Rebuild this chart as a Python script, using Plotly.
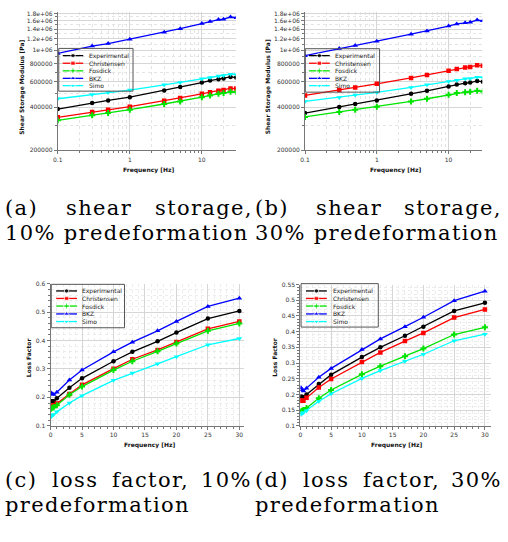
import math
import plotly.graph_objects as go

W, H = 508, 542

# ---------------- data ----------------
freq = [0.1, 0.3, 0.5, 1, 3, 5, 10, 13, 17, 20, 25, 30]
series_names = ["Experimental", "Christensen", "Fosdick", "BKZ", "Simo"]

# (a) shear storage modulus, 10% predeformation [Pa]
exp_a = [388e3, 428e3, 446e3, 470e3, 523e3, 552e3, 594e3, 613e3, 627e3, 633e3, 650e3, 644e3]
chr_a = [340e3, 370e3, 384e3, 403e3, 444e3, 463e3, 496e3, 509e3, 520e3, 526e3, 540e3, 540e3]
fos_a = [324e3, 351e3, 364e3, 384e3, 421e3, 439e3, 470e3, 483e3, 496e3, 502e3, 512e3, 510e3]
bkz_a = [948e3, 1066e3, 1110e3, 1190e3, 1330e3, 1410e3, 1530e3, 1580e3, 1630e3, 1640e3, 1700e3, 1680e3]
simo_a = [458e3, 490e3, 507e3, 526e3, 573e3, 594e3, 630e3, 644e3, 661e3, 665e3, 679e3, 675e3]

# (b) shear storage modulus, 30% predeformation [Pa]
exp_b = [364e3, 401e3, 421e3, 446e3, 496e3, 520e3, 558e3, 576e3, 588e3, 594e3, 610e3, 601e3]
chr_b = [483e3, 526e3, 549e3, 582e3, 640e3, 671e3, 719e3, 739e3, 755e3, 763e3, 783e3, 779e3]
fos_b = [342e3, 370e3, 384e3, 403e3, 439e3, 458e3, 488e3, 502e3, 509e3, 512e3, 520e3, 515e3]
bkz_b = [914e3, 1027e3, 1077e3, 1154e3, 1290e3, 1360e3, 1470e3, 1520e3, 1550e3, 1560e3, 1620e3, 1600e3]
simo_b = [439e3, 468e3, 486e3, 507e3, 549e3, 573e3, 604e3, 617e3, 630e3, 633e3, 647e3, 644e3]

# (c) loss factor, 10% predeformation
exp_c = [0.186, 0.186, 0.186, 0.197, 0.234, 0.267, 0.327, 0.360, 0.397, 0.428, 0.477, 0.504]
chr_c = [0.168, 0.170, 0.172, 0.178, 0.212, 0.244, 0.301, 0.334, 0.367, 0.395, 0.441, 0.467]
fos_c = [0.160, 0.163, 0.165, 0.172, 0.209, 0.238, 0.296, 0.327, 0.362, 0.389, 0.434, 0.460]
bkz_c = [0.215, 0.212, 0.210, 0.218, 0.261, 0.296, 0.360, 0.394, 0.434, 0.467, 0.520, 0.549]
simo_c = [0.133, 0.137, 0.140, 0.149, 0.180, 0.206, 0.260, 0.286, 0.318, 0.343, 0.385, 0.407]

# (d) loss factor, 30% predeformation
exp_d = [0.193, 0.192, 0.191, 0.200, 0.233, 0.263, 0.319, 0.350, 0.387, 0.416, 0.466, 0.492]
chr_d = [0.181, 0.180, 0.180, 0.189, 0.222, 0.249, 0.303, 0.334, 0.370, 0.396, 0.445, 0.471]
fos_d = [0.146, 0.148, 0.150, 0.157, 0.188, 0.214, 0.264, 0.290, 0.322, 0.346, 0.391, 0.414]
bkz_d = [0.221, 0.215, 0.211, 0.220, 0.255, 0.283, 0.343, 0.377, 0.416, 0.446, 0.499, 0.529]
simo_d = [0.137, 0.140, 0.142, 0.148, 0.178, 0.202, 0.251, 0.276, 0.306, 0.328, 0.371, 0.392]

storage_ticks = [2e5, 4e5, 6e5, 8e5, 1e6, 1.2e6, 1.4e6, 1.6e6, 1.8e6]
storage_ticktext = ["200000", "400000", "600000", "800000", "1e+06", "1.2e+06", "1.4e+06", "1.6e+06", "1.8e+06"]
storage_minor = [3e5, 5e5, 7e5, 9e5, 1.1e6, 1.3e6, 1.5e6, 1.7e6]
freq_log_ticks = [0.1, 1, 10]
freq_log_ticktext = ["0.1", "1", "10"]
freq_log_minor = [0.2, 0.3, 0.4, 0.5, 0.6, 0.7, 0.8, 0.9, 2, 3, 4, 5, 6, 7, 8, 9, 20, 30]

captions = [
    ["(a) shear storage,", "10% predeformation"],
    ["(b) shear storage,", "30% predeformation"],
    ["(c) loss factor, 10%", "predeformation"],
    ["(d) loss factor, 30%", "predeformation"],
]

# ---------------- style ----------------
colors = ["#000000", "#ff0000", "#00e400", "#0000ff", "#00ffff"]
symbols = ["circle", "square", "cross", "triangle-up", "triangle-down"]
msizes = [4.5, 4.5, 5, 5, 5]
SANS = "DejaVu Sans"
SERIF = "DejaVu Serif"
CAP_SIZE = 21
CAP_LS = 1.35  # px letter spacing to mimic the wide caption type
LEFT_FIX = -4  # compensate the annotation's inner padding on left-anchored words


def X(px):
    return px / W


def Y(py):
    return 1 - py / H


panels = [
    dict(data=[exp_a, chr_a, fos_a, bkz_a, simo_a], kind="log",
         xd=(53.3, 233), yd=(8, 148.3), xr=[-1, 1.47], yr=[math.log10(2e5), 6.266],
         ytitle="Shear Storage Modulus [Pa]", ytx=17, yty=84, xtx=145, xty=168,
         box=(54.3, 45, 129.3, 88.3), l0=58.3, l1=79, tx=82.7, rows=[52.3, 60, 67.7, 75.3, 82.7]),
    dict(data=[exp_b, chr_b, fos_b, bkz_b, simo_b], kind="log",
         xd=(303, 482), yd=(8, 148.3), xr=[-1, 1.469], yr=[math.log10(2e5), 6.266],
         ytitle="Shear Storage Modulus [Pa]", ytx=266, yty=84, xtx=394, xty=168,
         box=(303.3, 45.3, 378.3, 89.3), l0=307, l1=328, tx=331.7, rows=[52.3, 60, 67.7, 75.3, 82.7]),
    dict(data=[exp_c, chr_c, fos_c, bkz_c, simo_c], kind="lin",
         xd=(46, 241.7), yd=(283.3, 427.3), xr=[0, 30.79], yr=[0.1, 0.6], ydt=0.1, ymin=0.02,
         ytitle="Loss Factor", ytx=24, yty=358, xtx=146, xty=447,
         box=(46.7, 284, 120.7, 328), l0=51.7, l1=72.7, tx=76, rows=[290.7, 298.3, 306, 314, 321.7]),
    dict(data=[exp_d, chr_d, fos_d, bkz_d, simo_d], kind="lin",
         xd=(298.3, 490.7), yd=(284.3, 427.3), xr=[0, 30.97], yr=[0.1, 0.55], ydt=0.05, ymin=0.01,
         ytitle="Loss Factor", ytx=272, yty=358, xtx=395, xty=447,
         box=(299, 283.3, 377, 327.3), l0=304, l1=325, tx=329, rows=[290.7, 298.3, 306, 314, 321.7]),
]

# caption placement: (left, right, y line1, y line2)
caption_boxes = [
    (3, 251, 207, 232.5),
    (255, 503, 207, 232.5),
    (3, 250, 482, 508),
    (255, 503, 482, 508),
]

# approximate advance widths of DejaVu Serif (em) for justification
_w = {" ": 0.318, "(": 0.390, ")": 0.390, "a": 0.596, "b": 0.640, "c": 0.560, "d": 0.640,
      "e": 0.592, "f": 0.370, "g": 0.640, "h": 0.644, "i": 0.320, "l": 0.320, "m": 0.948,
      "n": 0.644, "o": 0.602, "p": 0.640, "r": 0.478, "s": 0.513, "t": 0.402, ",": 0.318,
      "%": 0.950, "0": 0.636, "1": 0.636, "3": 0.636}


def text_w(s, size, ls):
    return sum(_w.get(ch, 0.6) for ch in s) * size + ls * (len(s) - 1)


def spaced(s):
    return f'<span style="letter-spacing:{CAP_LS}px">{s}</span>'


fig = go.Figure()
layout = dict(
    width=W, height=H, margin=dict(l=0, r=0, t=0, b=0),
    paper_bgcolor="white", plot_bgcolor="rgba(0,0,0,0)", showlegend=False,
)
annotations = []
shapes = []

axis_common = dict(
    showline=True, linecolor="#777777", linewidth=1, ticks="outside", ticklen=3,
    tickcolor="#777777", tickfont=dict(family=SANS, size=6, color="#333333"),
    showgrid=True, gridcolor="#d6d6d6", gridwidth=1, zeroline=False, fixedrange=True,
)

for i, p in enumerate(panels, start=1):
    xa = "xaxis" if i == 1 else f"xaxis{i}"
    ya = "yaxis" if i == 1 else f"yaxis{i}"
    xref = "x" if i == 1 else f"x{i}"
    yref = "y" if i == 1 else f"y{i}"
    xdom = [X(p["xd"][0]), X(p["xd"][1])]
    ydom = [Y(p["yd"][1]), Y(p["yd"][0])]
    if p["kind"] == "log":
        layout[xa] = dict(axis_common, type="log", domain=xdom, anchor=yref, range=p["xr"],
                          tickvals=freq_log_ticks, ticktext=freq_log_ticktext,
                          minor=dict(tickvals=freq_log_minor, ticks="outside", ticklen=2,
                                     tickcolor="#777777", showgrid=True, gridcolor="#e4e4e4",
                                     griddash="dot"))
        layout[ya] = dict(axis_common, type="log", domain=ydom, anchor=xref, range=p["yr"],
                          tickvals=storage_ticks, ticktext=storage_ticktext,
                          minor=dict(tickvals=storage_minor, ticks="outside", ticklen=2,
                                     tickcolor="#777777", showgrid=True, gridcolor="#e4e4e4",
                                     griddash="dot"))
    else:
        layout[xa] = dict(axis_common, domain=xdom, anchor=yref, range=p["xr"], dtick=5, tick0=0,
                          minor=dict(dtick=1, ticks="outside", ticklen=2, tickcolor="#777777",
                                     showgrid=True, gridcolor="#ececec", griddash="dot"))
        layout[ya] = dict(axis_common, domain=ydom, anchor=xref, range=p["yr"], dtick=p["ydt"],
                          tick0=0.1,
                          minor=dict(dtick=p["ymin"], ticks="outside", ticklen=2,
                                     tickcolor="#777777", showgrid=True, gridcolor="#ececec",
                                     griddash="dot"))

    for k, vals in enumerate(p["data"]):
        fig.add_trace(go.Scatter(
            x=freq, y=vals, mode="lines+markers", name=series_names[k],
            xaxis=xref, yaxis=yref,
            line=dict(color=colors[k], width=1.3),
            marker=dict(symbol=symbols[k], size=msizes[k], color=colors[k]),
            hoverinfo="x+y+name",
        ))

    # axis titles
    annotations.append(dict(text="<b>" + p["ytitle"] + "</b>", x=X(p["ytx"]), y=Y(p["yty"]),
                            xref="paper", yref="paper", showarrow=False, textangle=-90,
                            font=dict(family=SANS, size=6, color="#111111"),
                            xanchor="center", yanchor="middle"))
    annotations.append(dict(text="<b>Frequency [Hz]</b>", x=X(p["xtx"]), y=Y(p["xty"]),
                            xref="paper", yref="paper", showarrow=False,
                            font=dict(family=SANS, size=6, color="#111111"),
                            xanchor="center", yanchor="middle"))

    # legend box (drawn by hand so its rows can be as tight as the reference)
    bx0, by0, bx1, by1 = p["box"]
    shapes.append(dict(type="rect", xref="paper", yref="paper", x0=X(bx0), x1=X(bx1),
                       y0=Y(by1), y1=Y(by0), line=dict(color="#555555", width=1),
                       fillcolor="rgba(255,255,255,0)", layer="above"))
    for k, ry in enumerate(p["rows"]):
        mid = (p["l0"] + p["l1"]) / 2
        fig.add_trace(go.Scatter(
            x=[p["l0"], mid, p["l1"]], y=[ry, ry, ry], mode="lines+markers",
            xaxis="x5", yaxis="y5", hoverinfo="skip",
            line=dict(color=colors[k], width=1.3),
            marker=dict(symbol=symbols[k], size=[0, msizes[k], 0], color=colors[k]),
        ))
        annotations.append(dict(text=series_names[k], x=X(p["tx"]), y=Y(ry),
                                xref="paper", yref="paper", showarrow=False,
                                font=dict(family=SANS, size=6, color="#222222"),
                                xanchor="left", yanchor="middle"))

layout["xaxis5"] = dict(domain=[0, 1], range=[0, W], visible=False, anchor="y5", fixedrange=True)
layout["yaxis5"] = dict(domain=[0, 1], range=[H, 0], visible=False, anchor="x5", fixedrange=True)

# ---------------- captions (justified first line, ragged last line) ----------------
cap_font = dict(family=SERIF, size=CAP_SIZE, color="black")
for (line1, line2), (left, right, y1, y2) in zip(captions, caption_boxes):
    words = line1.split(" ")
    widths = [text_w(wd, CAP_SIZE, CAP_LS) for wd in words]
    gap = (right - left - sum(widths)) / (len(words) - 1)
    xpos = left
    for j, (wd, ww) in enumerate(zip(words, widths)):
        if j == 0:
            annotations.append(dict(text=spaced(wd), x=X(left + LEFT_FIX), y=Y(y1), xanchor="left"))
        elif j == len(words) - 1:
            annotations.append(dict(text=spaced(wd), x=X(right), y=Y(y1), xanchor="right"))
        else:
            annotations.append(dict(text=spaced(wd), x=X(xpos + ww / 2), y=Y(y1), xanchor="center"))
        xpos += ww + gap
    annotations.append(dict(text=spaced(line2), x=X(left + LEFT_FIX), y=Y(y2), xanchor="left"))
for a in annotations:
    if "font" not in a:
        a.update(xref="paper", yref="paper", showarrow=False, yanchor="middle",
                 font=cap_font, borderpad=0)

layout["annotations"] = annotations
layout["shapes"] = shapes
fig.update_layout(**layout)

fig.write_html(
    "out.html",
    config={"displayModeBar": False},
    post_script="document.body.style.margin='0';document.body.style.padding='0';",
)
